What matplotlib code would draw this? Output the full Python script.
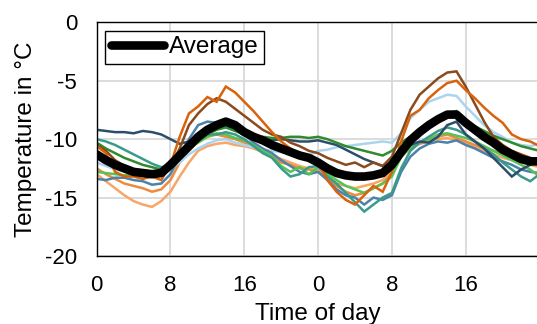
import matplotlib
matplotlib.use("Agg")
import matplotlib.pyplot as plt
import numpy as np

plt.rcParams['font.family'] = ['Liberation Sans', 'DejaVu Sans']

hours = list(range(49))
xtick_pos = [0, 8, 16, 24, 32, 40]
xtick_labels = ["0", "8", "16", "0", "8", "16"]
ytick_pos = [0, -5, -10, -15, -20]

navy = [-9.2,-9.3,-9.4,-9.4,-9.5,-9.3,-9.4,-9.6,-10.0,
        -10.4,-10.2,-9.6,-9.0,-8.9,-8.8,-9.2,-9.6,
        -9.9,-10.0,-10.1,-10.0,-10.1,-10.2,-10.2,-10.1,
        -10.3,-10.5,-10.9,-11.3,-11.7,-12.0,-12.3,-12.0,
        -11.0,-10.5,-10.2,-10.3,-9.8,-8.8,-8.5,-9.6,
        -10.2,-10.8,-11.6,-12.4,-13.2,-12.6,-12.2,-11.8]
teal = [-10.0,-10.2,-10.5,-10.9,-11.3,-11.7,-12.1,-12.4,-12.2,
        -11.5,-10.5,-9.9,-9.6,-9.6,-9.4,-9.6,-10.0,
        -10.6,-11.2,-11.6,-12.5,-13.2,-13.0,-12.4,-12.3,
        -13.2,-13.8,-14.6,-15.4,-16.2,-15.6,-15.0,-14.6,
        -12.5,-11.0,-10.3,-9.8,-9.3,-9.0,-9.2,-9.6,
        -10.2,-10.8,-11.3,-12.0,-12.6,-13.2,-13.6,-13.0]
dgreen = [-10.3,-10.8,-11.2,-11.6,-11.9,-12.2,-12.4,-12.6,-12.3,
          -11.6,-10.8,-10.2,-9.6,-9.2,-9.0,-9.3,-9.6,
          -9.8,-9.8,-9.9,-9.9,-9.8,-9.8,-9.9,-9.8,
          -10.0,-10.3,-10.6,-10.8,-11.0,-11.2,-11.4,-11.0,
          -10.3,-9.8,-9.2,-8.6,-8.2,-7.8,-7.6,-8.4,
          -8.9,-9.3,-9.7,-10.0,-10.3,-10.6,-10.8,-11.0]
lgreen = [-12.8,-12.9,-13.0,-13.1,-13.0,-12.9,-12.8,-12.7,-12.3,
          -11.5,-10.8,-10.3,-9.8,-9.5,-9.6,-9.9,-10.1,
          -10.5,-11.0,-11.5,-12.3,-12.8,-12.4,-13.0,-12.4,
          -13.0,-13.5,-14.0,-14.3,-14.6,-14.2,-13.8,-13.2,
          -11.5,-10.7,-10.3,-10.0,-9.6,-9.5,-9.7,-9.9,
          -10.2,-10.6,-11.0,-11.4,-11.8,-12.2,-12.6,-13.2]
steel = [-13.4,-13.5,-13.3,-13.3,-13.5,-13.6,-13.9,-13.8,-13.0,
         -11.5,-10.0,-8.8,-8.5,-8.6,-8.6,-9.0,-9.6,
         -10.3,-10.8,-11.2,-11.8,-12.3,-12.8,-13.0,-12.8,
         -13.5,-14.3,-14.8,-15.0,-15.6,-15.0,-15.2,-14.8,
         -12.8,-11.5,-10.8,-10.4,-10.2,-10.3,-10.1,-10.5,
         -10.8,-11.2,-11.6,-11.9,-12.2,-12.6,-12.8,-12.9]
lblue = [-12.0,-12.3,-12.6,-12.8,-13.0,-13.0,-12.9,-12.8,-12.5,
         -12.0,-11.3,-10.8,-10.4,-10.1,-10.0,-10.3,-10.5,
         -10.7,-10.9,-11.0,-11.1,-11.2,-11.3,-11.4,-11.0,
         -10.9,-10.7,-10.6,-10.5,-10.4,-10.3,-10.2,-10.3,
         -9.5,-8.2,-7.5,-6.8,-6.5,-6.2,-6.3,-7.2,
         -8.0,-8.8,-9.4,-9.8,-10.3,-10.5,-10.6,-10.4]
dorange = [-10.6,-11.2,-12.8,-13.2,-13.2,-13.4,-13.2,-13.5,-12.2,
           -9.8,-7.8,-7.2,-6.4,-6.8,-5.5,-6.0,-6.8,
           -7.6,-8.5,-9.4,-10.2,-10.8,-11.3,-11.5,-12.0,
           -13.5,-14.5,-15.2,-15.6,-14.8,-14.0,-14.5,-12.8,
           -10.2,-8.0,-7.5,-6.5,-5.8,-5.2,-5.0,-5.8,
           -6.5,-7.3,-8.0,-8.6,-9.6,-10.0,-10.2,-10.6]
brown = [-10.5,-11.0,-11.8,-12.3,-12.6,-12.8,-13.0,-12.9,-12.3,
         -10.8,-8.8,-7.8,-7.0,-6.5,-6.8,-7.4,-8.0,
         -8.6,-9.2,-9.6,-9.8,-10.3,-10.6,-11.0,-11.2,
         -11.6,-11.9,-12.2,-12.0,-12.4,-12.0,-12.3,-11.5,
         -9.5,-7.5,-6.2,-5.5,-4.8,-4.3,-4.2,-5.5,
         -7.0,-8.5,-9.8,-10.5,-11.0,-11.3,-11.6,-11.8]
peach = [-13.0,-13.6,-14.2,-14.8,-15.3,-15.6,-15.8,-15.3,-14.5,
         -13.2,-12.0,-11.0,-10.6,-10.4,-10.3,-10.5,-10.6,
         -10.8,-11.1,-11.4,-11.7,-12.0,-12.3,-12.5,-12.6,
         -13.2,-13.8,-14.0,-14.2,-14.0,-13.8,-13.5,-12.8,
         -11.2,-10.5,-10.3,-10.1,-10.0,-9.9,-10.1,-10.4,
         -10.7,-11.0,-11.3,-11.6,-11.8,-12.0,-12.2,-12.4]
morange = [-12.5,-13.0,-13.4,-13.8,-14.0,-14.2,-14.5,-14.3,-13.5,
           -12.0,-11.0,-10.2,-9.8,-9.6,-9.8,-10.0,-10.3,
           -10.6,-11.0,-11.5,-12.0,-12.2,-12.5,-12.6,-12.8,
           -13.4,-14.0,-14.5,-14.8,-14.6,-14.2,-13.8,-13.0,
           -11.5,-10.8,-10.4,-10.2,-9.8,-9.6,-9.9,-10.2,
           -10.5,-10.8,-11.0,-11.2,-11.5,-11.8,-12.0,-12.2]
average = [-11.3,-11.8,-12.2,-12.5,-12.8,-12.9,-13.0,-12.9,-12.2,
           -11.4,-10.6,-9.8,-9.2,-8.8,-8.5,-8.8,-9.4,
           -9.8,-10.1,-10.5,-10.8,-11.1,-11.4,-11.6,-12.0,
           -12.5,-12.9,-13.1,-13.2,-13.2,-13.1,-12.9,-12.2,
           -11.1,-10.1,-9.4,-8.8,-8.3,-7.9,-7.9,-8.6,
           -9.2,-9.8,-10.3,-10.9,-11.3,-11.7,-11.9,-11.9]

series = [
    (peach, "#f9a566"),
    (morange, "#ee8a3e"),
    (lblue, "#a9d5ef"),
    (steel, "#4a82aa"),
    (lgreen, "#55c455"),
    (teal, "#3a9b8c"),
    (navy, "#2d4e6b"),
    (dgreen, "#2e8b2e"),
    (brown, "#8b4a1c"),
    (dorange, "#d9620c"),
]

fig = plt.figure(figsize=(5.37, 3.24), dpi=100)
ax = fig.add_axes([0.180, 0.2099, 0.8247, 0.7213])

for vals, col in series:
    ax.plot(hours, vals, color=col, lw=1.8, solid_joinstyle='miter')
ax.plot(hours, average, color="black", lw=6.2, label="Average",
        solid_capstyle='round')

ax.set_xlim(0, 48)
ax.set_ylim(-20, 0)
ax.set_xticks(xtick_pos)
ax.set_xticklabels(xtick_labels)
ax.set_yticks(ytick_pos)
ax.set_yticklabels([str(v) for v in ytick_pos])
ax.tick_params(length=0, pad=14, labelsize=16)
ax.grid(True, color="#d9d9d9", lw=1.3)
ax.set_axisbelow(True)
for s in ax.spines.values():
    s.set_color("black")
    s.set_linewidth(1.0)

ax.set_xlabel("Time of day", fontsize=17.5, labelpad=4.5)
ax.set_ylabel("Temperature in °C", fontsize=17.5, labelpad=5.5)

leg = ax.legend(loc="upper left", fontsize=17.5, handlelength=2.2,
                handletextpad=0.2, borderpad=0.22, fancybox=False,
                edgecolor="black", framealpha=1, borderaxespad=0.35)
leg.get_frame().set_linewidth(1.0)

fig.savefig("out.png", dpi=100)
